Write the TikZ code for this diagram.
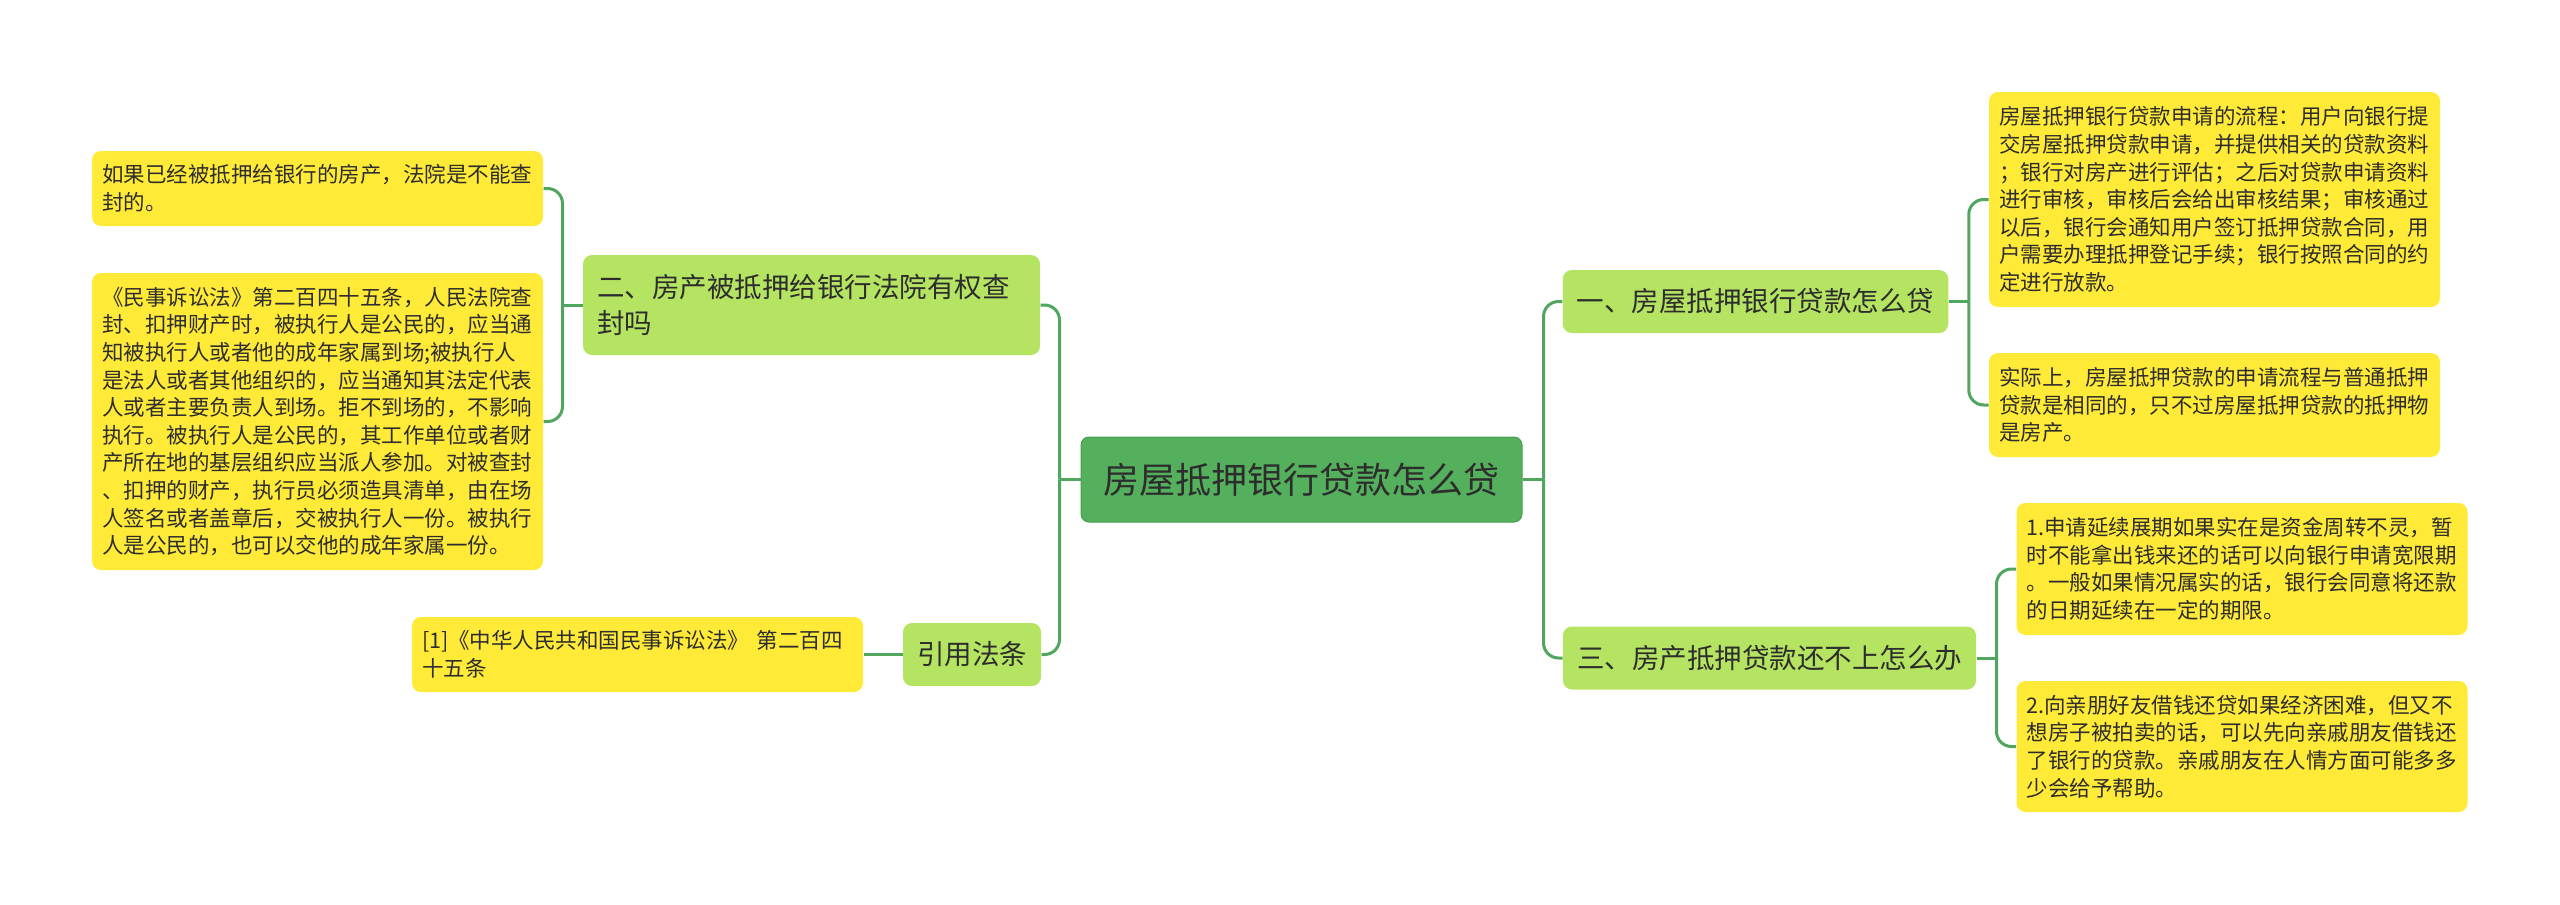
\documentclass[tikz,border=0pt]{standalone}
\usepackage{fontspec}
\setmainfont{Noto Sans CJK SC}
\definecolor{rootgreen}{RGB}{84,176,92}
\definecolor{rootedge}{RGB}{72,158,80}
\definecolor{topicgreen}{RGB}{181,228,98}
\definecolor{leafyellow}{RGB}{255,234,56}
\definecolor{linkgreen}{RGB}{80,166,94}
\definecolor{inkgray}{RGB}{45,45,45}

\begin{document}
\begin{tikzpicture}[x=1pt,y=-1pt,line width=1pt,
  rootbox/.style={fill=rootgreen,draw=rootedge,line width=1pt,rounded corners=8,text=inkgray,
    minimum width=441,minimum height=85,inner sep=0pt,font=\fontsize{36}{44}\selectfont},
  topicbox/.style={fill=topicgreen,rounded corners=9,text=inkgray,inner xsep=14,inner ysep=0pt,
    minimum height=63,align=left,font=\fontsize{27.5}{36}\selectfont},
  leafbox/.style={fill=leafyellow,rounded corners=9,text=inkgray,inner xsep=10,inner ysep=0pt,
    text width=431,align=left,font=\fontsize{21.5}{27.6}\selectfont},
  link/.style={draw=linkgreen,line width=3pt},
  elbow/.style={link,rounded corners=15}]
\path[use as bounding box] (0,0) rectangle (2560,905);
% centre
\node[rootbox] (root) at (1301.5,479.5) {房屋抵押银行贷款怎么贷};
% right side
\node[topicbox] (howto) at (1755.5,301.5) {一、房屋抵押银行贷款怎么贷};
\node[topicbox] (cantpay) at (1769.5,658) {三、房产抵押贷款还不上怎么办};
\node[leafbox,minimum height=215] (steps) at (2214.5,199.5) {房屋抵押银行贷款申请的流程：用户向银行提\\交房屋抵押贷款申请，并提供相关的贷款资料\\；银行对房产进行评估；之后对贷款申请资料\\进行审核，审核后会给出审核结果；审核通过\\以后，银行会通知用户签订抵押贷款合同，用\\户需要办理抵押登记手续；银行按照合同的约\\定进行放款。};
\node[leafbox,minimum height=104] (same) at (2214.5,405) {实际上，房屋抵押贷款的申请流程与普通抵押\\贷款是相同的，只不过房屋抵押贷款的抵押物\\是房产。};
\node[leafbox,minimum height=132] (extend) at (2242,569) {1.申请延续展期如果实在是资金周转不灵，暂\\时不能拿出钱来还的话可以向银行申请宽限期\\。一般如果情况属实的话，银行会同意将还款\\的日期延续在一定的期限。};
\node[leafbox,minimum height=131] (borrow) at (2242,746.5) {2.向亲朋好友借钱还贷如果经济困难，但又不\\想房子被拍卖的话，可以先向亲戚朋友借钱还\\了银行的贷款。亲戚朋友在人情方面可能多多\\少会给予帮助。};
% left side
\node[topicbox,text width=429,minimum height=100] (seize) at (811.5,305) {二、房产被抵押给银行法院有权查\\封吗};
\node[topicbox] (cite) at (972,654.5) {引用法条};
\node[leafbox,minimum height=75] (noseize) at (317.5,188.5) {如果已经被抵押给银行的房产，法院是不能查\\封的。};
\node[leafbox,minimum height=297] (law) at (317.5,421.5) {《民事诉讼法》第二百四十五条，人民法院查\\封、扣押财产时，被执行人是公民的，应当通\\知被执行人或者他的成年家属到场;被执行人\\是法人或者其他组织的，应当通知其法定代表\\人或者主要负责人到场。拒不到场的，不影响\\执行。被执行人是公民的，其工作单位或者财\\产所在地的基层组织应当派人参加。对被查封\\、扣押的财产，执行员必须造具清单，由在场\\人签名或者盖章后，交被执行人一份。被执行\\人是公民的，也可以交他的成年家属一份。};
\node[leafbox,minimum height=75] (ref) at (637.5,654.5) {[1]《中华人民共和国民事诉讼法》 第二百四\\十五条};
% connectors
\draw[link] (root.east) -- ++(21,0) coordinate (rj);
\draw[elbow] (rj) |- (howto.west);
\draw[elbow] (rj) |- (cantpay.west);
\draw[link] (root.west) -- ++(-21,0) coordinate (lj);
\draw[elbow] (lj) |- (seize.east);
\draw[elbow] (lj) |- (cite.east);
\draw[link] (howto.east) -- ++(20,0) coordinate (hj);
\draw[elbow] (hj) |- (steps.west);
\draw[elbow] (hj) |- (same.west);
\draw[link] (cantpay.east) -- ++(20,0) coordinate (cj);
\draw[elbow] (cj) |- (extend.west);
\draw[elbow] (cj) |- (borrow.west);
\draw[link] (seize.west) -- ++(-20,0) coordinate (sj);
\draw[elbow] (sj) |- (noseize.east);
\draw[elbow] (sj) |- (law.east);
\draw[link] (cite.west) -- (ref.east);
\end{tikzpicture}
\end{document}
